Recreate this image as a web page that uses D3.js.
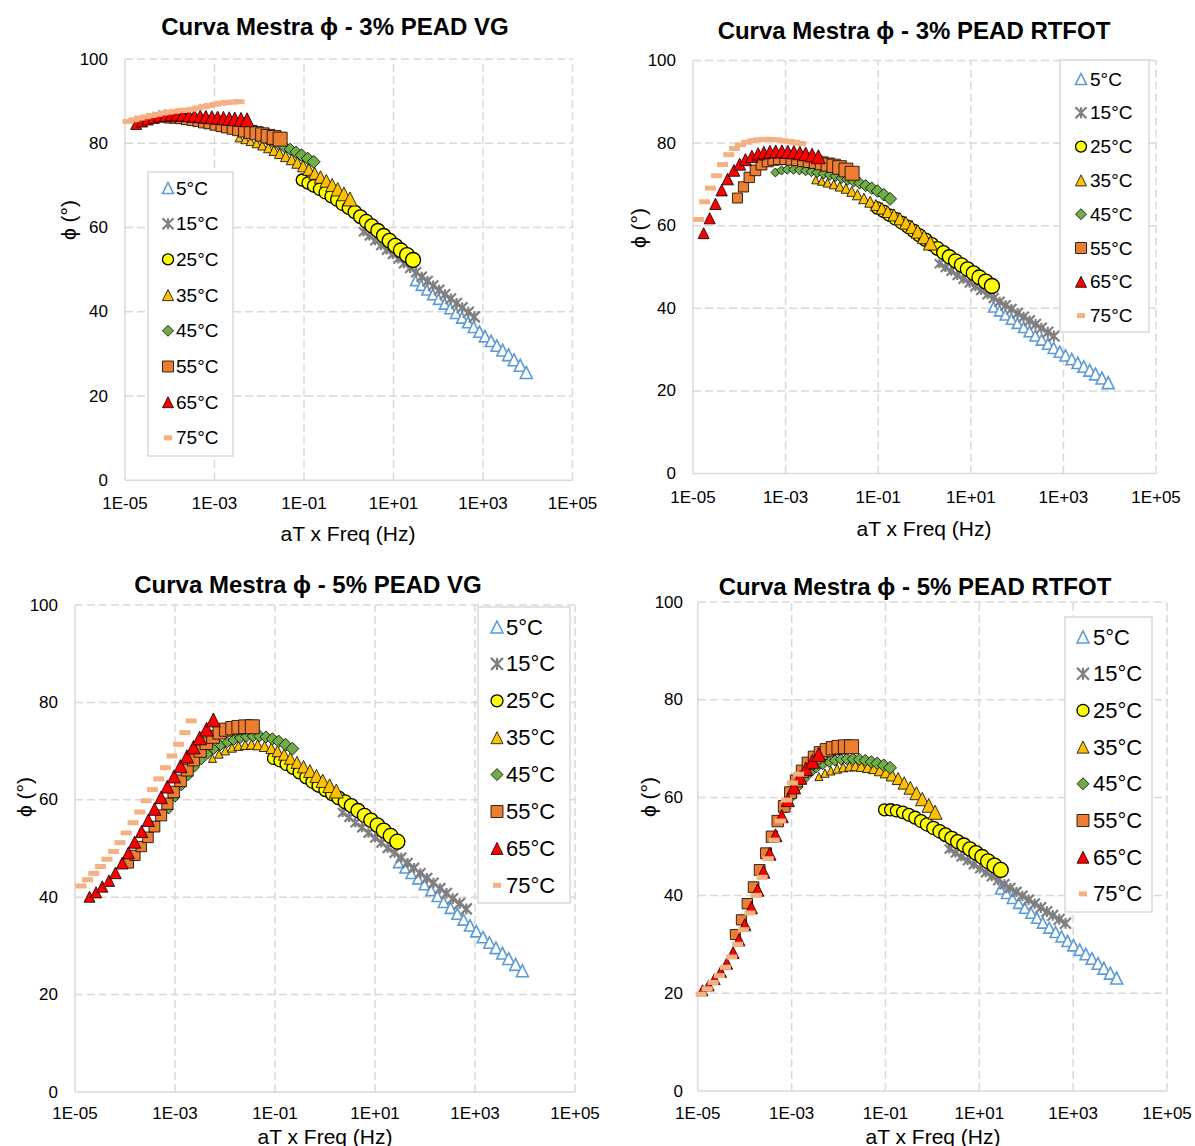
<!DOCTYPE html>
<html>
<head>
<meta charset="utf-8">
<style>
  body { margin: 0; background: #fff; }
  svg text { font-family: Arial, "Liberation Sans", sans-serif; fill: #000; }
</style>
</head>
<body>
<div id="canvas"></div>
<script src="https://cdn.jsdelivr.net/npm/d3@7"></script>
<script>
// ---- data ----
var temps = ["5°C", "15°C", "25°C", "35°C", "45°C", "55°C", "65°C", "75°C"];
var titles = ["Curva Mestra \u03d5 - 3% PEAD VG", "Curva Mestra \u03d5 - 3% PEAD RTFOT",
              "Curva Mestra \u03d5 - 5% PEAD VG", "Curva Mestra \u03d5 - 5% PEAD RTFOT"];
var xTicks = [1e-5, 1e-3, 1e-1, 1e1, 1e3, 1e5];
var xTickLabels = ["1E-05", "1E-03", "1E-01", "1E+01", "1E+03", "1E+05"];
var yTicks = [0, 20, 40, 60, 80, 100];

// sweep frequencies (Hz)
var freq = [0.1, 0.135, 0.18, 0.245, 0.33, 0.45, 0.6, 0.8, 1.1, 1.5, 2, 2.7, 3.6, 4.9, 6.6, 8.9, 12, 16, 22, 30];

// log10(aT) per temperature
var logAT_3VG = [2.49, 1.33, -0.04, -1.45, -2.26, -3.01, -3.75, -3.93];
var logAT_3RT = [2.49, 1.32, -0.02, -1.35, -2.22, -3.04, -3.77, -3.88];
var logAT_5VG = [2.47, 1.35, -0.03, -1.25, -2.13, -2.93, -3.71, -3.88];
var logAT_5RT = [2.45, 1.36, -0.02, -1.42, -2.38, -3.20, -3.90, -3.93];

// phase angle (°), one row per temperature
var phi_3VG = [
  [47.4, 46.3, 45.2, 44.1, 43.0, 41.9, 40.8, 39.7, 38.6, 37.5, 36.4, 35.3, 34.2, 33.1, 32.0, 30.9, 29.8, 28.6, 27.3, 25.6],
  [59.0, 58.0, 56.9, 55.8, 54.7, 53.7, 52.6, 51.5, 50.4, 49.4, 48.3, 47.3, 46.2, 45.2, 44.1, 43.1, 42.0, 41.0, 39.9, 38.8],
  [71.3, 70.6, 69.9, 69.1, 68.3, 67.4, 66.6, 65.6, 64.7, 63.7, 62.6, 61.5, 60.4, 59.3, 58.1, 56.9, 55.7, 54.6, 53.5, 52.3],
  [81.3, 80.9, 80.5, 80.0, 79.5, 78.9, 78.3, 77.6, 76.9, 76.2, 75.4, 74.6, 73.8, 72.9, 72.0, 71.1, 70.1, 69.1, 68.0, 66.8],
  [85.3, 85.0, 84.7, 84.4, 84.0, 83.6, 83.2, 82.8, 82.4, 82.0, 81.5, 81.0, 80.4, 79.8, 79.2, 78.6, 77.9, 77.2, 76.4, 75.6],
  [86.0, 86.0, 85.9, 85.7, 85.5, 85.3, 85.0, 84.8, 84.5, 84.2, 83.9, 83.6, 83.3, 83.0, 82.7, 82.4, 82.1, 81.7, 81.4, 81.0],
  [84.6, 85.2, 85.7, 86.1, 86.4, 86.6, 86.7, 86.7, 86.7, 86.6, 86.5, 86.4, 86.3, 86.2, 86.1, 86.0, 85.9, 85.8, 85.7, 85.6],
  [85.2, 85.6, 86.0, 86.3, 86.6, 86.9, 87.2, 87.4, 87.6, 87.8, 87.9, 88.1, 88.4, 88.7, 89.0, 89.3, 89.5, 89.7, 89.8, 89.9]
];
var phi_3RT = [
  [40.3, 39.4, 38.4, 37.4, 36.4, 35.4, 34.4, 33.4, 32.4, 31.4, 30.4, 29.5, 28.6, 27.7, 26.8, 25.9, 25.0, 24.1, 23.1, 22.0],
  [50.8, 49.9, 49.0, 48.0, 47.1, 46.2, 45.3, 44.4, 43.4, 42.5, 41.6, 40.7, 39.8, 38.8, 37.9, 37.0, 36.1, 35.2, 34.2, 33.3],
  [64.3, 63.5, 62.6, 61.7, 60.8, 59.8, 58.8, 57.7, 56.6, 55.5, 54.5, 53.5, 52.5, 51.5, 50.5, 49.5, 48.5, 47.5, 46.5, 45.4],
  [71.1, 70.8, 70.4, 70.0, 69.5, 69.0, 68.3, 67.5, 66.6, 65.8, 65.0, 64.2, 63.4, 62.6, 61.7, 60.7, 59.7, 58.6, 57.3, 55.8],
  [72.9, 73.4, 73.6, 73.6, 73.5, 73.3, 73.1, 72.9, 72.6, 72.3, 72.0, 71.6, 71.2, 70.8, 70.3, 69.7, 69.1, 68.4, 67.5, 66.5],
  [66.7, 69.4, 71.7, 73.4, 74.8, 75.6, 76.0, 76.2, 76.2, 76.1, 76.0, 75.8, 75.6, 75.4, 75.1, 74.8, 74.5, 74.1, 73.5, 72.7],
  [58.2, 61.8, 65.3, 68.6, 71.3, 73.4, 74.9, 76.0, 76.8, 77.4, 77.7, 77.9, 78.0, 78.0, 77.9, 77.8, 77.6, 77.4, 77.1, 76.7],
  [61.5, 65.8, 69.1, 72.1, 74.8, 77.2, 78.7, 79.6, 80.2, 80.6, 80.8, 80.9, 80.9, 80.8, 80.6, 80.4, 80.2, 79.9, null, null]
];
var phi_5VG = [
  [47.1, 46.0, 44.9, 43.8, 42.6, 41.4, 40.2, 39.0, 37.8, 36.6, 35.4, 34.2, 33.0, 31.8, 30.7, 29.6, 28.5, 27.4, 26.2, 24.9],
  [57.4, 56.4, 55.3, 54.3, 53.2, 52.2, 51.2, 50.1, 49.1, 48.1, 47.0, 46.0, 44.9, 43.9, 42.9, 41.8, 40.8, 39.7, 38.7, 37.6],
  [68.5, 68.0, 67.3, 66.5, 65.6, 64.6, 63.7, 62.9, 62.0, 61.2, 60.4, 59.6, 58.8, 57.8, 56.8, 55.8, 54.8, 53.7, 52.6, 51.4],
  [68.5, 69.4, 70.1, 70.7, 71.1, 71.3, 71.4, 71.3, 71.0, 70.6, 70.0, 69.3, 68.5, 67.7, 66.8, 65.9, 64.9, 63.9, 62.9, 61.8],
  [58.0, 60.5, 62.8, 64.9, 66.7, 68.2, 69.4, 70.4, 71.2, 71.8, 72.3, 72.7, 73.0, 73.1, 73.1, 72.9, 72.5, 72.0, 71.3, 70.5],
  [47.0, 48.6, 50.4, 52.3, 54.5, 56.8, 59.2, 61.6, 63.9, 66.1, 68.2, 70.0, 71.6, 72.9, 73.8, 74.4, 74.7, 74.9, 75.0, 75.0],
  [40.1, 41.0, 42.2, 43.4, 45.0, 47.0, 49.1, 51.3, 53.5, 55.8, 58.1, 60.5, 62.7, 64.8, 66.9, 68.9, 70.8, 72.7, 74.5, 76.4],
  [42.3, 43.6, 44.9, 46.3, 47.8, 49.4, 51.2, 53.2, 55.3, 57.5, 59.8, 62.1, 64.3, 66.6, 69.0, 71.4, 73.8, 76.2, null, null]
];
var phi_5RT = [
  [41.3, 40.4, 39.4, 38.4, 37.4, 36.4, 35.4, 34.4, 33.4, 32.5, 31.6, 30.7, 29.8, 28.9, 28.0, 27.1, 26.1, 25.1, 24.1, 23.1],
  [49.5, 48.7, 47.9, 47.1, 46.3, 45.5, 44.7, 43.9, 43.1, 42.3, 41.5, 40.7, 39.9, 39.1, 38.3, 37.5, 36.7, 35.9, 35.1, 34.3],
  [57.5, 57.5, 57.3, 57.0, 56.5, 55.9, 55.2, 54.5, 53.8, 53.1, 52.4, 51.7, 51.0, 50.3, 49.5, 48.7, 47.9, 47.0, 46.1, 45.2],
  [64.3, 65.0, 65.5, 65.9, 66.2, 66.4, 66.5, 66.4, 66.2, 66.0, 65.6, 65.2, 64.6, 63.9, 63.0, 62.0, 60.9, 59.7, 58.4, 57.0],
  [52.0, 55.0, 57.8, 60.2, 62.2, 63.8, 65.1, 66.1, 66.8, 67.3, 67.6, 67.8, 67.9, 67.9, 67.8, 67.6, 67.3, 67.0, 66.6, 66.1],
  [32.0, 35.0, 38.3, 41.7, 45.2, 48.6, 52.0, 55.2, 58.2, 61.0, 63.4, 65.4, 67.0, 68.2, 69.1, 69.7, 70.1, 70.3, 70.4, 70.4],
  [20.6, 21.6, 22.9, 24.4, 26.1, 28.3, 30.9, 34.0, 37.5, 41.1, 44.8, 48.5, 52.3, 56.2, 59.5, 62.1, 64.1, 65.9, 67.4, 68.8],
  [19.8, 20.9, 22.2, 23.6, 25.3, 27.4, 30.0, 33.0, 36.4, 40.0, 43.7, 47.5, 51.3, 55.2, 59.5, 63.0, 64.8, null, null, null]
];

// ---- styles (marker per temperature) ----
var styles = [
  {shape: "tri",     fill: "#fff",    stroke: "#5B9BD5", sw: 1.6, s0: 10, s1: 12},
  {shape: "star",    fill: "none",    stroke: "#7F7F7F", sw: 2.2, s0: 9,  s1: 11},
  {shape: "circle",  fill: "#FFFF00", stroke: "#000",    sw: 1.3, s0: 12, s1: 15},
  {shape: "tri",     fill: "#FFC000", stroke: "#000",    sw: 0.8, s0: 8,  s1: 14},
  {shape: "diamond", fill: "#70AD47", stroke: "#000",    sw: 0.8, s0: 9,  s1: 13},
  {shape: "square",  fill: "#ED7D31", stroke: "#000",    sw: 0.8, s0: 10, s1: 14},
  {shape: "tri",     fill: "#FF0000", stroke: "#000",    sw: 0.8, s0: 11, s1: 14},
  {shape: "dash",    fill: "#F4B183", stroke: "none",    sw: 0,   s0: 11, s1: 11}
];

var panels = [
  {title: titles[0], logAT: logAT_3VG, phi: phi_3VG, x0: 125, x1: 572.5, yTop: 59.1, yBot: 480.3,
   titleX: 335, titleY: 26, xTitleX: 348, xTitleY: 533, yTitleX: 68, yTitleY: 220, xTickY: 503, yTickX: 108,
   leg: {x: 148, y: 172, w: 85, h: 284, first: 188, step: 35.7, mx: 168, tx: 176, fs: 19, ms: 11}},
  {title: titles[1], logAT: logAT_3RT, phi: phi_3RT, x0: 693, x1: 1156, yTop: 60.5, yBot: 473.5,
   titleX: 914, titleY: 30, xTitleX: 924, xTitleY: 528, yTitleX: 638, yTitleY: 228, xTickY: 497, yTickX: 676,
   leg: {x: 1060, y: 60, w: 89, h: 272, first: 79, step: 33.8, mx: 1081, tx: 1090, fs: 19, ms: 11}},
  {title: titles[2], logAT: logAT_5VG, phi: phi_5VG, x0: 75, x1: 575, yTop: 605, yBot: 1092,
   titleX: 308, titleY: 584, xTitleX: 325, xTitleY: 1136, yTitleX: 24, yTitleY: 797, xTickY: 1113, yTickX: 58,
   leg: {x: 478, y: 607, w: 92, h: 296, first: 627, step: 36.9, mx: 497, tx: 506, fs: 22, ms: 12}},
  {title: titles[3], logAT: logAT_5RT, phi: phi_5RT, x0: 697.8, x1: 1167, yTop: 602, yBot: 1091,
   titleX: 915, titleY: 586, xTitleX: 933, xTitleY: 1136, yTitleX: 648, yTitleY: 797, xTickY: 1113, yTickX: 683,
   leg: {x: 1065, y: 617, w: 87, h: 295, first: 637, step: 36.7, mx: 1083, tx: 1093, fs: 22, ms: 12}}
];

// ---- drawing ----
var svg = d3.select("#canvas").append("svg")
  .attr("width", 1195).attr("height", 1146);

function markerPath(shape, s) {
  var h = s / 2;
  switch (shape) {
    case "tri": return "M0," + (-h) + "L" + h + "," + h + "L" + (-h) + "," + h + "Z";
    case "diamond": return "M0," + (-h) + "L" + h + ",0L0," + h + "L" + (-h) + ",0Z";
    case "square": return "M" + (-h) + "," + (-h) + "h" + s + "v" + s + "h" + (-s) + "Z";
    case "circle": return "M" + (-h) + ",0a" + h + "," + h + " 0 1,0 " + s + ",0a" + h + "," + h + " 0 1,0 " + (-s) + ",0Z";
    case "star": return "M" + (-h) + "," + (-h) + "L" + h + "," + h + "M" + h + "," + (-h) + "L" + (-h) + "," + h +
                        "M0," + (-h) + "L0," + h;
    case "dash": return "M" + (-h) + ",-2.5h" + s + "v5h" + (-s) + "Z";
  }
}

function drawMarker(g, st, s, x, y) {
  g.append("path")
    .attr("d", markerPath(st.shape, s))
    .attr("transform", "translate(" + x + "," + y + ")")
    .attr("fill", st.fill)
    .attr("stroke", st.stroke)
    .attr("stroke-width", st.sw)
    .attr("stroke-linejoin", "miter");
}

panels.forEach(function (p) {
  var x = d3.scaleLog().domain([1e-5, 1e5]).range([p.x0, p.x1]);
  var y = d3.scaleLinear().domain([0, 100]).range([p.yBot, p.yTop]);
  var g = svg.append("g");

  // grid
  g.selectAll(".vg").data(xTicks.slice(1)).enter().append("line")
    .attr("x1", function (d) { return x(d); }).attr("x2", function (d) { return x(d); })
    .attr("y1", y(0)).attr("y2", y(100))
    .attr("stroke", "#D9D9D9").attr("stroke-width", 1.5).attr("stroke-dasharray", "8,4");
  g.selectAll(".hg").data(yTicks.slice(1)).enter().append("line")
    .attr("x1", x(1e-5)).attr("x2", x(1e5))
    .attr("y1", function (d) { return y(d); }).attr("y2", function (d) { return y(d); })
    .attr("stroke", "#D9D9D9").attr("stroke-width", 1.5).attr("stroke-dasharray", "8,4");
  // axis lines
  g.append("line").attr("x1", x(1e-5)).attr("x2", x(1e-5)).attr("y1", y(0)).attr("y2", y(100))
    .attr("stroke", "#D9D9D9").attr("stroke-width", 1.5);
  g.append("line").attr("x1", x(1e-5)).attr("x2", x(1e5)).attr("y1", y(0)).attr("y2", y(0))
    .attr("stroke", "#D9D9D9").attr("stroke-width", 1.5);

  // tick labels
  g.selectAll(".xt").data(xTicks).enter().append("text")
    .attr("x", function (d) { return x(d); }).attr("y", p.xTickY)
    .attr("text-anchor", "middle").attr("dominant-baseline", "central")
    .attr("font-size", 17)
    .text(function (d, i) { return xTickLabels[i]; });
  g.selectAll(".yt").data(yTicks).enter().append("text")
    .attr("x", p.yTickX).attr("y", function (d) { return y(d); })
    .attr("text-anchor", "end").attr("dominant-baseline", "central")
    .attr("font-size", 17)
    .text(function (d) { return d; });

  // titles
  g.append("text").attr("x", p.titleX).attr("y", p.titleY)
    .attr("text-anchor", "middle").attr("dominant-baseline", "central")
    .attr("font-size", 24).attr("font-weight", "bold").text(p.title);
  g.append("text").attr("x", p.xTitleX).attr("y", p.xTitleY)
    .attr("text-anchor", "middle").attr("dominant-baseline", "central")
    .attr("font-size", 21).text("aT x Freq (Hz)");
  g.append("text")
    .attr("transform", "translate(" + p.yTitleX + "," + p.yTitleY + ") rotate(-90)")
    .attr("text-anchor", "middle").attr("dominant-baseline", "central")
    .attr("font-size", 21).text("\u03d5 (°)");

  // series
  p.phi.forEach(function (vals, k) {
    var st = styles[k];
    var shift = Math.pow(10, p.logAT[k]);
    var sg = g.append("g");
    var n = vals.length - 1;
    vals.forEach(function (v, i) {
      if (v === null) return;
      var s = st.s0 + (st.s1 - st.s0) * i / n;
      drawMarker(sg, st, s, x(freq[i] * shift), y(v));
    });
  });

  // legend
  var L = p.leg;
  var lg = g.append("g");
  lg.append("rect").attr("x", L.x).attr("y", L.y).attr("width", L.w).attr("height", L.h)
    .attr("fill", "#fff").attr("stroke", "#D9D9D9").attr("stroke-width", 1.5);
  temps.forEach(function (t, k) {
    var cy = L.first + k * L.step;
    drawMarker(lg, styles[k], styles[k].shape === "dash" ? 8 : L.ms, L.mx, cy);
    lg.append("text").attr("x", L.tx).attr("y", cy)
      .attr("dominant-baseline", "central").attr("font-size", L.fs).text(t);
  });
});
</script>
</body>
</html>
